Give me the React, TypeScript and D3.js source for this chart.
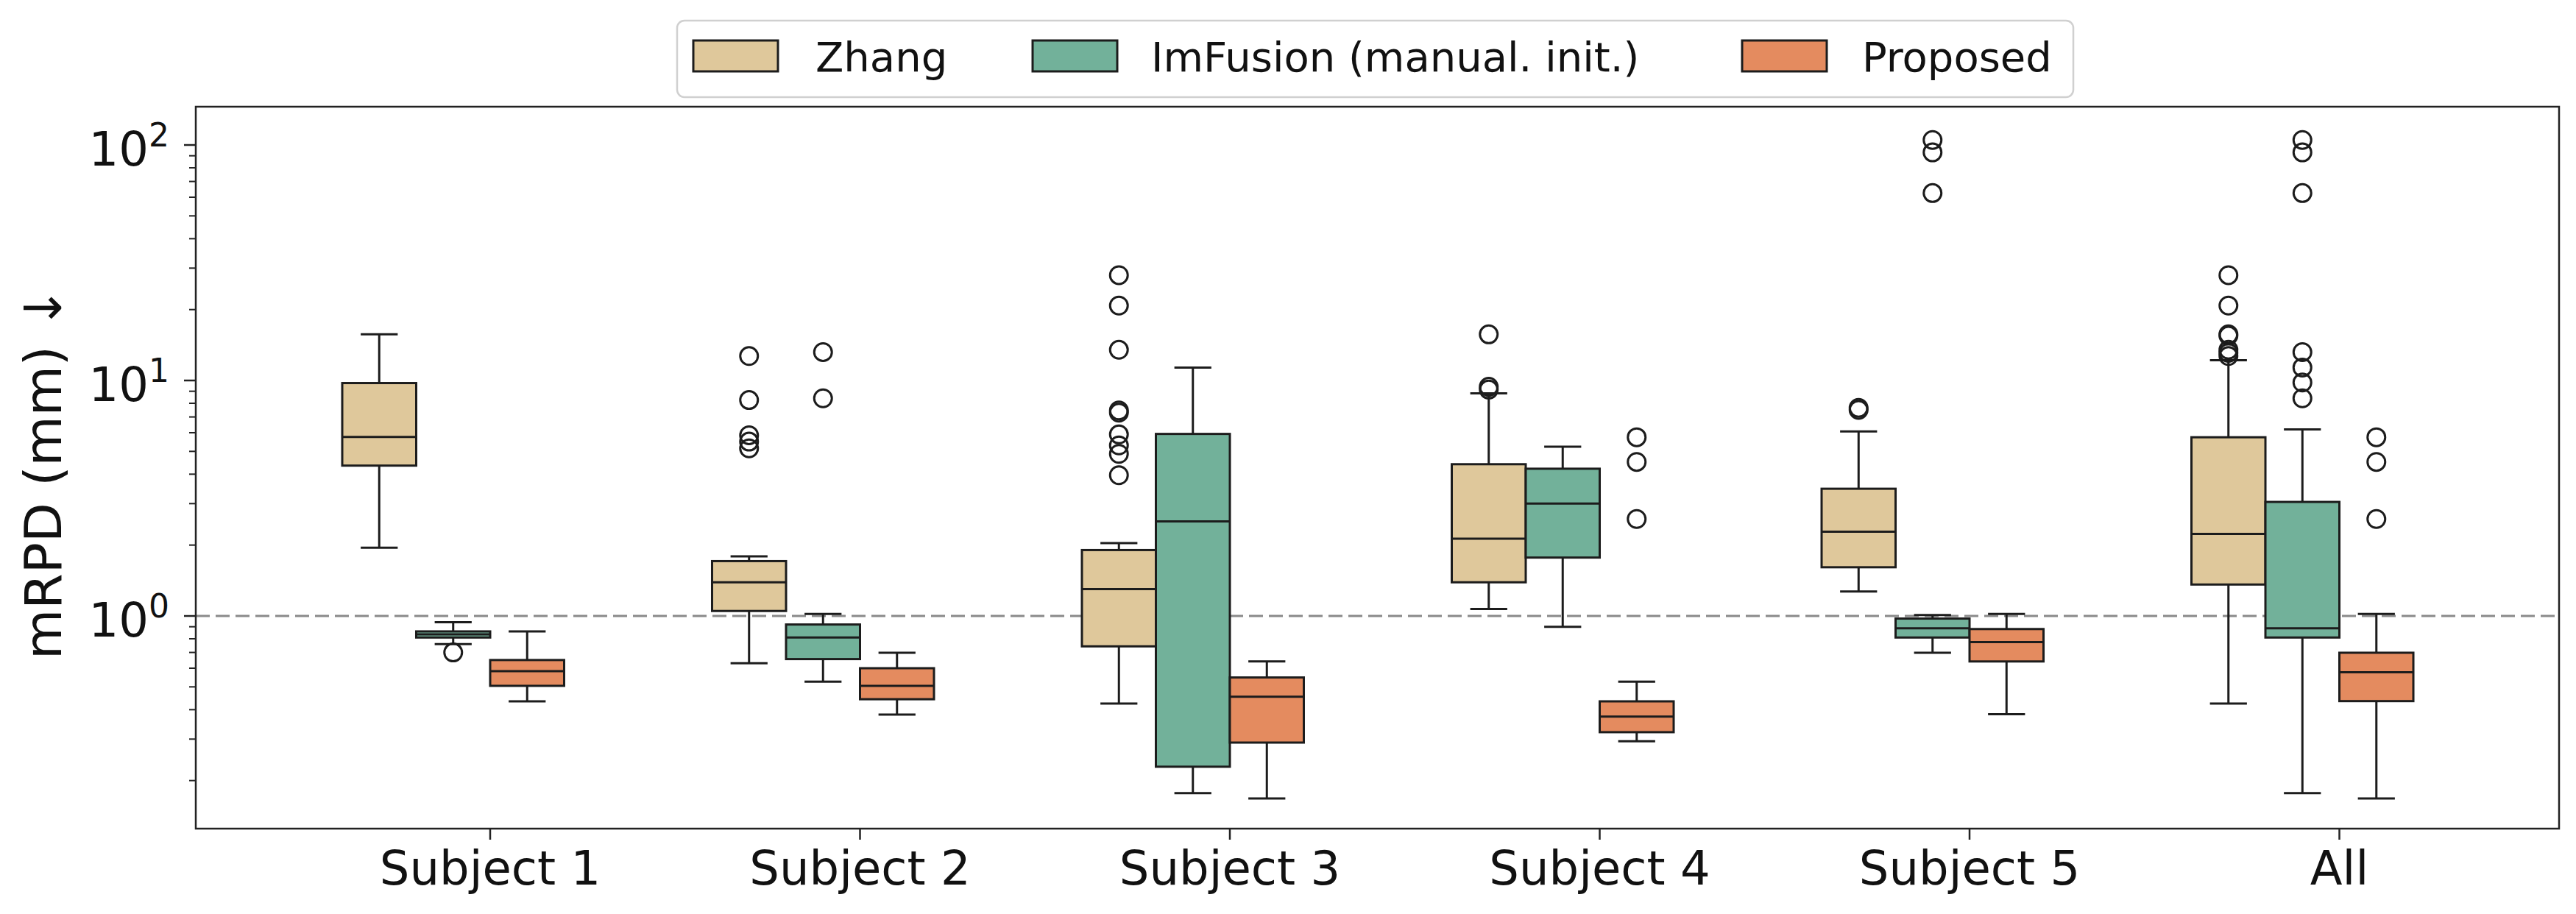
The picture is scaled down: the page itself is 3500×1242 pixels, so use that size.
import React from "react";
import * as d3 from "d3";

// ---------- data ----------
const categories = ["Subject 1", "Subject 2", "Subject 3", "Subject 4", "Subject 5", "All"];
const methods = ["Zhang", "ImFusion (manual. init.)", "Proposed"];
const methodColors = ["#dfc89b", "#72b19a", "#e48b5f"];

// [whisker low, q1, median, q3, whisker high] per category
const zhangStats = [
  [1.95, 4.35, 5.76, 9.75, 15.7],
  [0.63, 1.05, 1.39, 1.71, 1.79],
  [0.425, 0.743, 1.3, 1.905, 2.04],
  [1.07, 1.39, 2.13, 4.41, 8.81],
  [1.27, 1.61, 2.28, 3.47, 6.08],
  [0.425, 1.36, 2.23, 5.74, 12.2],
];
const zhangOutliers = [
  [],
  [12.7, 8.26, 5.85, 5.5, 5.15],
  [28.0, 20.8, 13.5, 7.46, 7.3, 5.9, 5.3, 4.88, 3.96],
  [15.7, 9.4, 9.15],
  [7.65, 7.5],
  [28.0, 20.8, 15.7, 15.5, 13.5, 13.1, 12.7],
];

const imfusionStats = [
  [0.76, 0.81, 0.835, 0.86, 0.94],
  [0.526, 0.656, 0.81, 0.92, 1.02],
  [0.177, 0.229, 2.52, 5.93, 11.35],
  [0.9, 1.77, 3.0, 4.22, 5.23],
  [0.698, 0.81, 0.886, 0.975, 1.01],
  [0.177, 0.81, 0.886, 3.05, 6.2],
];
const imfusionOutliers = [
  [0.7],
  [13.2, 8.4],
  [],
  [],
  [105, 93, 62.5],
  [105, 93, 62.5, 13.2, 11.35, 9.8, 8.4],
];

const proposedStats = [
  [0.434, 0.505, 0.583, 0.65, 0.86],
  [0.381, 0.443, 0.505, 0.6, 0.698],
  [0.168, 0.29, 0.454, 0.548, 0.641],
  [0.294, 0.321, 0.374, 0.434, 0.526],
  [0.383, 0.641, 0.775, 0.88, 1.02],
  [0.168, 0.435, 0.577, 0.698, 1.02],
];
const proposedOutliers = [[], [], [], [5.74, 4.51, 2.58], [], [5.74, 4.51, 2.58]];

const majorTicks = [1, 10, 100];
const majorExponents = ["0", "1", "2"];
const referenceValue = 1;
const yLabel = "mRPD (mm) ↓";

// ---------- layout ----------
const W = 3500;
const H = 1242;
const left = 266;
const right = 3477;
const top = 145;
const bottom = 1126;
const FONT = "DejaVu Sans, sans-serif";
const nSlots = 4;
const slotWidth = 0.2;

export default function App() {
  const x = d3.scaleLinear().domain([-0.796, 5.594]).range([left, right]);
  const y = d3.scaleLog().domain([0.125, 145.4]).range([bottom, top]);

  const allStats = [zhangStats, imfusionStats, proposedStats];
  const allOutliers = [zhangOutliers, imfusionOutliers, proposedOutliers];

  const minorTicks: number[] = [];
  [0.1, 1, 10].forEach((d) => {
    for (let k = 2; k <= 9; k++) {
      const v = d * k;
      if (v >= y.domain()[0] && v <= y.domain()[1]) minorTicks.push(v);
    }
  });

  const lw = 3;
  const stroke = "#1c1c1c";

  const boxes: React.ReactNode[] = [];
  allStats.forEach((stats, m) => {
    stats.forEach((s, g) => {
      const c = g + (m - (nSlots - 1) / 2) * slotWidth;
      const x0 = x(c - slotWidth / 2);
      const x1 = x(c + slotWidth / 2);
      const xc = x(c);
      const capHalf = (x1 - x0) / 4;
      const [lo, q1, med, q3, hi] = s;
      boxes.push(
        <g key={`b-${m}-${g}`}>
          <line x1={xc} x2={xc} y1={y(q3)} y2={y(hi)} stroke={stroke} strokeWidth={lw} />
          <line x1={xc} x2={xc} y1={y(q1)} y2={y(lo)} stroke={stroke} strokeWidth={lw} />
          <line x1={xc - capHalf} x2={xc + capHalf} y1={y(hi)} y2={y(hi)} stroke={stroke} strokeWidth={lw} />
          <line x1={xc - capHalf} x2={xc + capHalf} y1={y(lo)} y2={y(lo)} stroke={stroke} strokeWidth={lw} />
          <rect
            x={x0}
            y={y(q3)}
            width={x1 - x0}
            height={y(q1) - y(q3)}
            fill={methodColors[m]}
            stroke={stroke}
            strokeWidth={lw}
          />
          <line x1={x0} x2={x1} y1={y(med)} y2={y(med)} stroke={stroke} strokeWidth={lw} />
          {allOutliers[m][g].map((v, i) => (
            <circle key={i} cx={xc} cy={y(v)} r={12} fill="none" stroke={stroke} strokeWidth={lw} />
          ))}
        </g>
      );
    });
  });

  // legend
  const legendPatchX = [942, 1403, 2367];
  const legendTextX = [1108, 1564, 2530];

  return (
    <svg
      width={W}
      height={H}
      style={{ position: "absolute", left: 0, top: 0, background: "#fff" }}
      fontFamily={FONT}
    >
      <rect x={0} y={0} width={W} height={H} fill="#fff" />

      {/* reference line */}
      <line
        x1={left}
        x2={right}
        y1={y(referenceValue)}
        y2={y(referenceValue)}
        stroke="#8a8a8a"
        strokeWidth={3}
        strokeDasharray="19 8"
      />

      {boxes}

      {/* axes frame */}
      <rect x={left} y={top} width={right - left} height={bottom - top} fill="none" stroke="#222" strokeWidth={2.5} />

      {/* y ticks */}
      {majorTicks.map((t, i) => (
        <g key={`yt-${t}`}>
          <line x1={left - 16} x2={left} y1={y(t)} y2={y(t)} stroke="#222" strokeWidth={2.5} />
          <text x={230} y={y(t) + 28} fontSize={64} textAnchor="end" fill="#111">
            10
            <tspan fontSize={44} dy={-26}>
              {majorExponents[i]}
            </tspan>
          </text>
        </g>
      ))}
      {minorTicks.map((t) => (
        <line key={`ym-${t}`} x1={left - 9} x2={left} y1={y(t)} y2={y(t)} stroke="#222" strokeWidth={2} />
      ))}

      {/* x ticks */}
      {categories.map((c, i) => (
        <g key={`xt-${c}`}>
          <line x1={x(i)} x2={x(i)} y1={bottom} y2={bottom + 15} stroke="#222" strokeWidth={2.5} />
          <text x={x(i)} y={1202} fontSize={64} textAnchor="middle" fill="#111">
            {c}
          </text>
        </g>
      ))}

      {/* y label */}
      <text
        transform={`translate(83, ${(top + bottom) / 2 + 7}) rotate(-90)`}
        fontSize={70}
        textAnchor="middle"
        fill="#111"
      >
        {yLabel}
      </text>

      {/* legend */}
      <rect x={920} y={28} width={1897} height={104} rx={10} ry={10} fill="#fff" fillOpacity={0.8} stroke="#d0d0d0" strokeWidth={2.5} />
      {methods.map((m, i) => (
        <g key={`lg-${m}`}>
          <rect x={legendPatchX[i]} y={55} width={115} height={42} fill={methodColors[i]} stroke={stroke} strokeWidth={lw} />
          <text x={legendTextX[i]} y={97} fontSize={56} fill="#111">
            {m}
          </text>
        </g>
      ))}
    </svg>
  );
}
